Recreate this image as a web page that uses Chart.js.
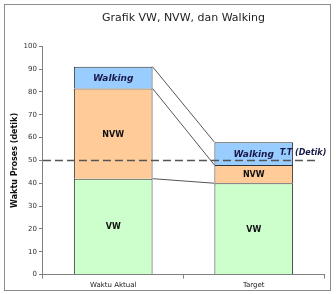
<!DOCTYPE html>
<html>
<head>
<meta charset="utf-8">
<script src="https://cdn.jsdelivr.net/npm/chart.js@4.4.1/dist/chart.umd.min.js"></script>
<style>
  body { margin: 0; background: #fff; }
  #wrap { position: relative; width: 336px; height: 294px; }
  #frame { position: absolute; left: 4px; top: 4px; width: 325px; height: 285px; border: 1px solid #8c8c8c; pointer-events: none; }
</style>
</head>
<body>
<div id="wrap">
  <canvas id="chart" width="336" height="294"></canvas>
  <div id="frame"></div>
</div>
<script>
// Data
const categories = ["Waktu Aktual", "Target"];
const vwValues = [42, 40];
const nvwValues = [39.5, 8];
const walkingValues = [9.5, 10];
const targetTime = 50; // T.T (Detik)

// Series lines between stacked segment tops (like Excel's series lines)
const seriesLinesPlugin = {
  id: "seriesLines",
  afterDatasetsDraw(chart) {
    const ctx = chart.ctx;
    ctx.save();
    ctx.strokeStyle = "#555";
    ctx.lineWidth = 1;
    chart.data.datasets.forEach((ds, i) => {
      const meta = chart.getDatasetMeta(i);
      const a = meta.data[0];
      const b = meta.data[1];
      ctx.beginPath();
      ctx.moveTo(a.x + a.width / 2, a.y);
      ctx.lineTo(b.x - b.width / 2, b.y);
      ctx.stroke();
    });
    ctx.restore();
  },
};

// Labels inside the bars + T.T dashed line
const labelsPlugin = {
  id: "segmentLabels",
  afterDatasetsDraw(chart) {
    const ctx = chart.ctx;
    const area = chart.chartArea;
    const yScale = chart.scales.y;
    ctx.save();

    // T.T line
    const yT = yScale.getPixelForValue(targetTime);
    ctx.strokeStyle = "#555";
    ctx.lineWidth = 1.5;
    ctx.setLineDash([8, 4]);
    ctx.beginPath();
    ctx.moveTo(area.left, yT);
    ctx.lineTo(area.right - 5, yT);
    ctx.stroke();
    ctx.setLineDash([]);

    ctx.textAlign = "center";
    ctx.textBaseline = "middle";
    chart.data.datasets.forEach((ds, i) => {
      const meta = chart.getDatasetMeta(i);
      meta.data.forEach((bar) => {
        const cy = (bar.y + bar.base) / 2;
        if (ds.label === "Walking") {
          ctx.font = "italic bold 9px 'DejaVu Sans'";
          ctx.fillStyle = "#1a1a4a";
        } else {
          ctx.font = "bold 8px 'DejaVu Sans'";
          ctx.fillStyle = "#111";
        }
        ctx.fillText(ds.label, bar.x, cy + 1);
      });
    });

    ctx.font = "italic bold 8px 'DejaVu Sans'";
    ctx.fillStyle = "#1a1a4a";
    ctx.fillText("T.T (Detik)", area.right - 21, yT - 7);
    ctx.restore();
  },
};

const ctx = document.getElementById("chart").getContext("2d");

new Chart(ctx, {
  type: "bar",
  data: {
    labels: categories,
    datasets: [
      {
        label: "VW",
        data: vwValues,
        backgroundColor: "#ccffcc",
        borderColor: "#333",
        borderWidth: 1,
      },
      {
        label: "NVW",
        data: nvwValues,
        backgroundColor: "#ffcc99",
        borderColor: "#333",
        borderWidth: 1,
      },
      {
        label: "Walking",
        data: walkingValues,
        backgroundColor: "#99ccff",
        borderColor: "#333",
        borderWidth: 1,
      },
    ],
  },
  options: {
    responsive: false,
    animation: false,
    layout: { padding: { left: 10, right: 12, top: 0, bottom: 3 } },
    datasets: {
      bar: { categoryPercentage: 1, barPercentage: 0.56 },
    },
    plugins: {
      legend: { display: false },
      tooltip: { enabled: false },
      title: {
        display: true,
        fullSize: false,
        text: "Grafik VW, NVW, dan Walking",
        color: "#222",
        font: { family: "'DejaVu Sans'", size: 11, weight: "normal" },
        padding: { top: 12, bottom: 21 },
      },
    },
    scales: {
      x: {
        stacked: true,
        grid: { drawOnChartArea: false, tickLength: 4, color: "#808080" },
        border: { color: "#808080" },
        ticks: { color: "#222", font: { family: "'DejaVu Sans'", size: 7 }, padding: 2 },
      },
      y: {
        stacked: true,
        min: 0,
        max: 100,
        grid: { drawOnChartArea: false, tickLength: 4, color: "#808080" },
        border: { color: "#808080" },
        ticks: { stepSize: 10, color: "#333", font: { family: "'DejaVu Sans'", size: 7 }, padding: 2 },
        title: {
          display: true,
          text: "Waktu Proses (detik)",
          color: "#111",
          font: { family: "'DejaVu Sans'", size: 8, weight: "bold" },
          padding: { top: 0, bottom: 2 },
        },
      },
    },
  },
  plugins: [seriesLinesPlugin, labelsPlugin],
});
</script>
</body>
</html>
